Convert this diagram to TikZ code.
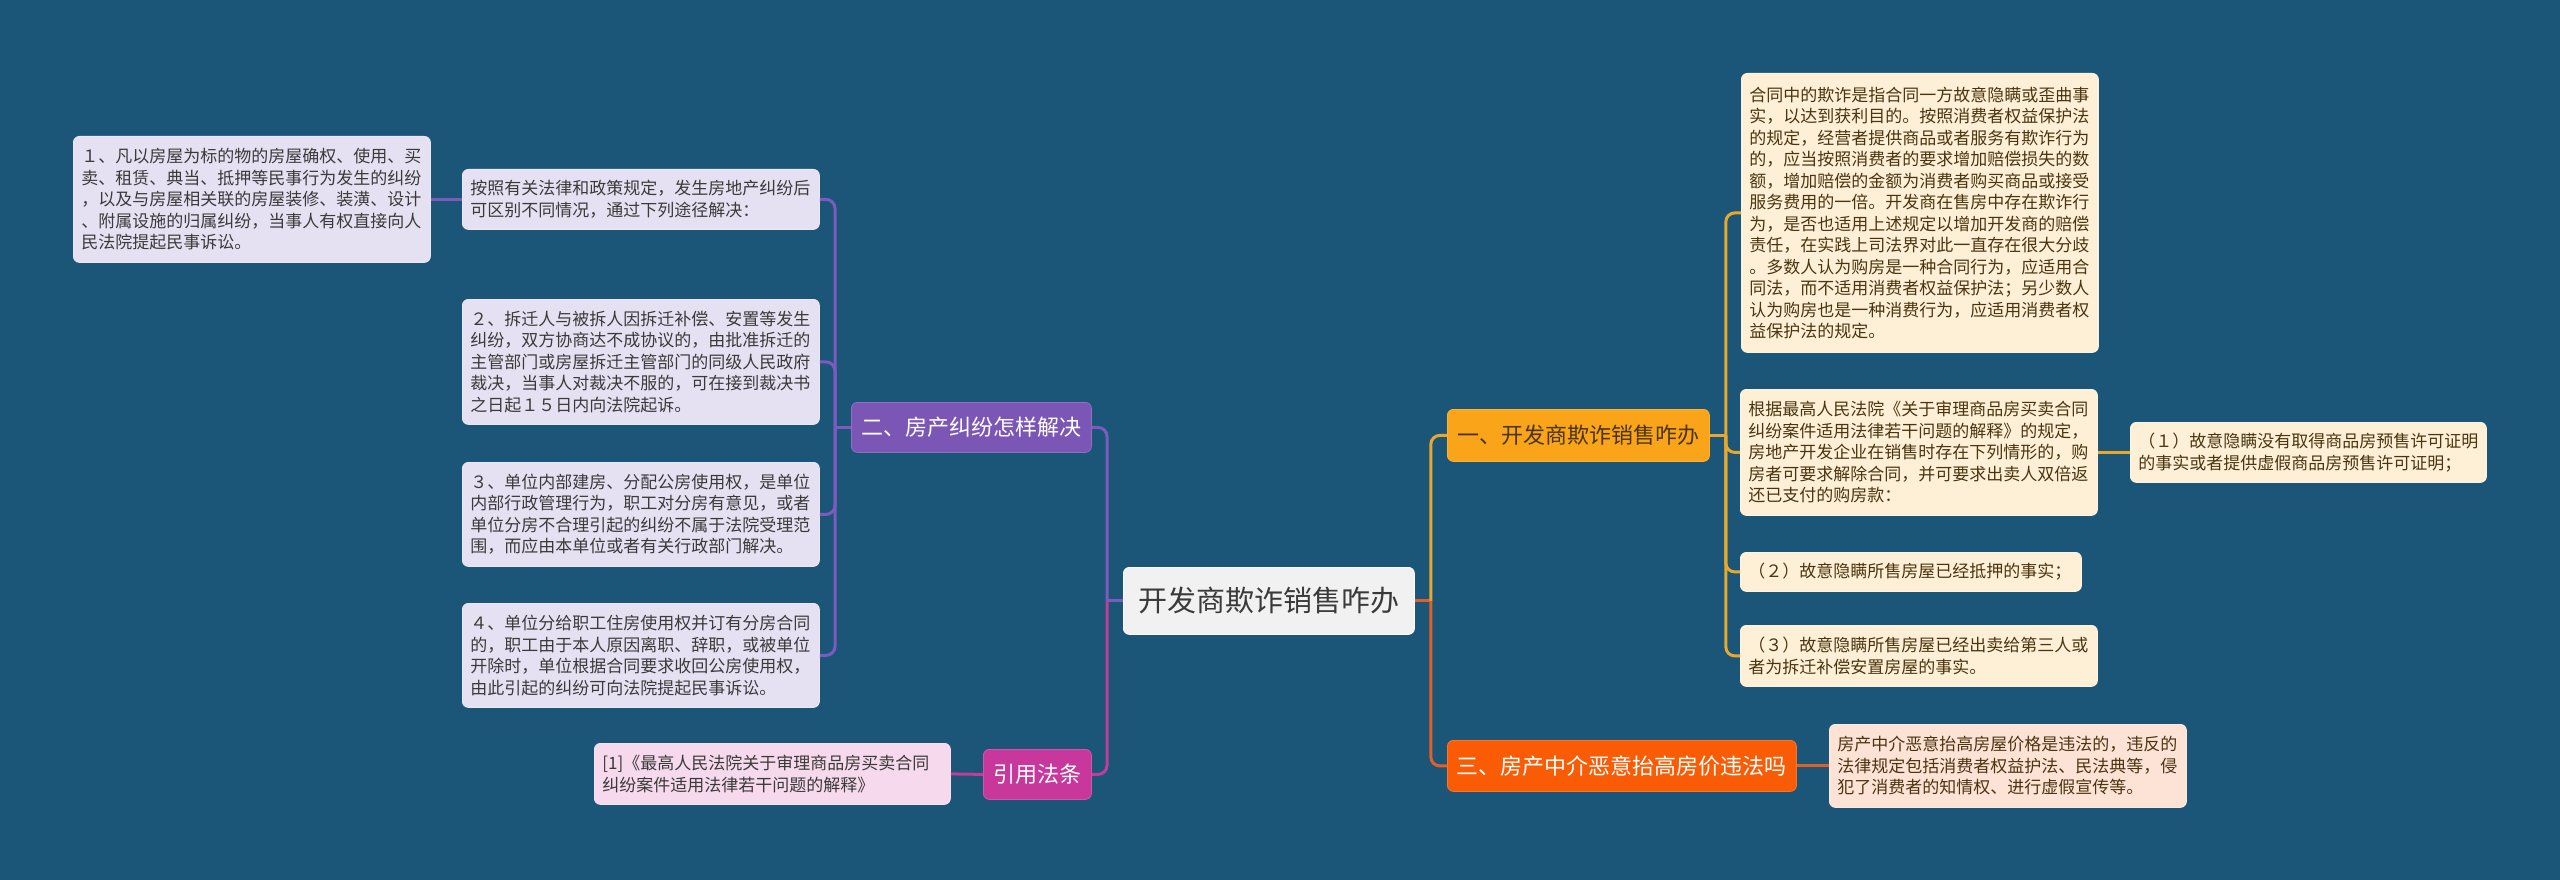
\documentclass[tikz,border=0pt]{standalone}
\usepackage{fontspec}
\setmainfont{Noto Sans CJK SC}
\definecolor{bgc}{HTML}{1B5578}
\definecolor{purp}{HTML}{7B56B5}
\definecolor{purpl}{HTML}{7C5BBE}
\definecolor{lav}{HTML}{E6E1F2}
\definecolor{mag}{HTML}{C8389C}
\definecolor{magl}{HTML}{C23C9A}
\definecolor{pink}{HTML}{F6D9EC}
\definecolor{amb}{HTML}{FAA41A}
\definecolor{ambl}{HTML}{E6A82E}
\definecolor{cream}{HTML}{FEF0D7}
\definecolor{ora}{HTML}{FA5C06}
\definecolor{oral}{HTML}{E0602A}
\definecolor{peach}{HTML}{FDE3D6}
\definecolor{rootc}{HTML}{F1F1F1}
\definecolor{darktxt}{HTML}{3A3A3A}
\definecolor{browntxt}{HTML}{4A3510}
\begin{document}
\begin{tikzpicture}[x=1pt,y=-1pt,
  box/.style={rounded corners=6pt, anchor=north west, inner ysep=0pt, inner xsep=8pt, align=left,
    font=\fontsize{17}{21.5}\selectfont},
  leafP/.style={box, fill=lav, draw=lav!80!white, line width=0.8pt, text=darktxt},
  leafM/.style={box, fill=pink, draw=pink!80!white, line width=0.8pt, text=darktxt},
  leafA/.style={box, fill=cream, draw=cream!80!white, line width=0.8pt, text=browntxt},
  leafO/.style={box, fill=peach, draw=peach!80!white, line width=0.8pt, text=browntxt},
  branch/.style={rounded corners=6pt, anchor=north west, inner sep=0pt, align=center,
    font=\fontsize{22}{26}\selectfont},
  conn/.style={line width=3pt},
  rconn/.style={line width=3pt, rounded corners=9pt},
]
\fill[bgc] (0,0) rectangle (2560,880);
\useasboundingbox (0,0) rectangle (2560,880);

% ---------- root ----------
\node[branch, fill=rootc, draw=white, line width=0.8pt, text=darktxt, minimum width=291pt, minimum height=67pt,
  font=\fontsize{29}{34}\selectfont] (root) at (1123,567) {开发商欺诈销售咋办};

% ---------- left branch ----------
\node[branch, fill=purp, draw=purp!85!white, line width=0.8pt, text=white, minimum width=240pt, minimum height=50pt] (b2) at (851,402) {二、房产纠纷怎样解决};
\node[branch, fill=mag, draw=mag!85!white, line width=0.8pt, text=white, minimum width=108pt, minimum height=50pt] (cit) at (983,749) {引用法条};

\node[leafP, text width=341pt, minimum height=60pt] (p0) at (462,169)
 {按照有关法律和政策规定，发生房地产纠纷后\\可区别不同情况，通过下列途径解决：};
\node[leafP, text width=341pt, minimum height=126pt] (l1) at (73,136)
 {１、凡以房屋为标的物的房屋确权、使用、买\\卖、租赁、典当、抵押等民事行为发生的纠纷\\，以及与房屋相关联的房屋装修、装潢、设计\\、附属设施的归属纠纷，当事人有权直接向人\\民法院提起民事诉讼。};
\node[leafP, text width=341pt, minimum height=125pt] (l2) at (462,299)
 {２、拆迁人与被拆人因拆迁补偿、安置等发生\\纠纷，双方协商达不成协议的，由批准拆迁的\\主管部门或房屋拆迁主管部门的同级人民政府\\裁决，当事人对裁决不服的，可在接到裁决书\\之日起１５日内向法院起诉。};
\node[leafP, text width=341pt, minimum height=104pt] (l3) at (462,462)
 {３、单位内部建房、分配公房使用权，是单位\\内部行政管理行为，职工对分房有意见，或者\\单位分房不合理引起的纠纷不属于法院受理范\\围，而应由本单位或者有关行政部门解决。};
\node[leafP, text width=341pt, minimum height=104pt] (l4) at (462,603)
 {４、单位分给职工住房使用权并订有分房合同\\的，职工由于本人原因离职、辞职，或被单位\\开除时，单位根据合同要求收回公房使用权，\\由此引起的纠纷可向法院提起民事诉讼。};
\node[leafM, text width=340pt, minimum height=61pt] (cl) at (594,743)
 {[1]《最高人民法院关于审理商品房买卖合同\\纠纷案件适用法律若干问题的解释》};

% ---------- right branch ----------
\node[branch, fill=amb, draw=amb!85!white, line width=0.8pt, text=browntxt, minimum width=262pt, minimum height=52pt] (b1) at (1447,409) {一、开发商欺诈销售咋办};
\node[branch, fill=ora, draw=ora!85!white, line width=0.8pt, text=white, minimum width=349pt, minimum height=51pt] (b3) at (1447,740) {三、房产中介恶意抬高房价违法吗};

\node[leafA, text width=341pt, minimum height=279pt] (r1) at (1741,73)
 {合同中的欺诈是指合同一方故意隐瞒或歪曲事\\实，以达到获利目的。按照消费者权益保护法\\的规定，经营者提供商品或者服务有欺诈行为\\的，应当按照消费者的要求增加赔偿损失的数\\额，增加赔偿的金额为消费者购买商品或接受\\服务费用的一倍。开发商在售房中存在欺诈行\\为，是否也适用上述规定以增加开发商的赔偿\\责任，在实践上司法界对此一直存在很大分歧\\。多数人认为购房是一种合同行为，应适用合\\同法，而不适用消费者权益保护法；另少数人\\认为购房也是一种消费行为，应适用消费者权\\益保护法的规定。};
\node[leafA, text width=341pt, minimum height=126pt] (r2) at (1740,389)
 {根据最高人民法院《关于审理商品房买卖合同\\纠纷案件适用法律若干问题的解释》的规定，\\房地产开发企业在销售时存在下列情形的，购\\房者可要求解除合同，并可要求出卖人双倍返\\还已支付的购房款：};
\node[leafA, text width=340pt, minimum height=60pt] (r2a) at (2130,422)
 {（１）故意隐瞒没有取得商品房预售许可证明\\的事实或者提供虚假商品房预售许可证明；};
\node[leafA, text width=325pt, minimum height=39pt] (r3) at (1740,552)
 {（２）故意隐瞒所售房屋已经抵押的事实；};
\node[leafA, text width=341pt, minimum height=61pt] (r4) at (1740,625)
 {（３）故意隐瞒所售房屋已经出卖给第三人或\\者为拆迁补偿安置房屋的事实。};
\node[leafO, text width=341pt, minimum height=83pt] (r5) at (1829,724)
 {房产中介恶意抬高房屋价格是违法的，违反的\\法律规定包括消费者权益护法、民法典等，侵\\犯了消费者的知情权、进行虚假宣传等。};

% ---------- junction points ----------
\coordinate (jroot-l) at ([xshift=-16pt]root.west);
\coordinate (jroot-r) at ([xshift=16pt]root.east);
\coordinate (jb2) at ([xshift=-16pt]b2.west);
\coordinate (jb1) at ([xshift=16pt]b1.east);

% ---------- connectors ----------
\draw[conn, purpl] (root.west) -- (jroot-l);
\draw[rconn, purpl] (jroot-l) |- (b2.east);
\draw[rconn, magl] (jroot-l) |- (cit.east);
\draw[conn, purpl] (b2.west) -- (jb2);
\foreach \t in {p0,l2,l3,l4}
  \draw[rconn, purpl] (jb2) |- (\t.east);
\draw[conn, purpl] (p0.west) -- (l1.east);
\draw[conn, magl] (cit.west) -- (cl.east);

\draw[conn, oral] (root.east) -- (jroot-r);
\draw[rconn, ambl] (jroot-r) |- (b1.west);
\draw[rconn, oral] (jroot-r) |- (b3.west);
\draw[conn, ambl] (b1.east) -- (jb1);
\foreach \t in {r1,r2,r3,r4}
  \draw[rconn, ambl] (jb1) |- (\t.west);
\draw[conn, ambl] (r2.east) -- (r2a.west);
\draw[conn, oral] (b3.east) -- (r5.west);
\end{tikzpicture}
\end{document}
